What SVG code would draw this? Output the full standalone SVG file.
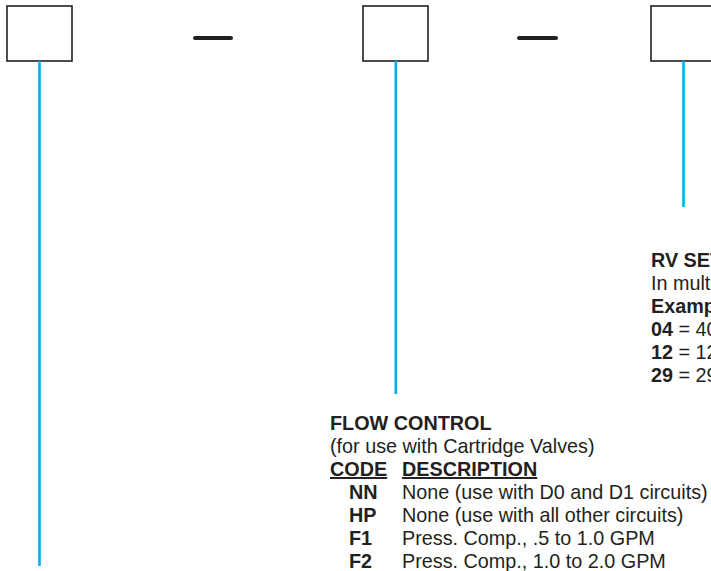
<svg xmlns="http://www.w3.org/2000/svg" width="711" height="571" viewBox="0 0 711 571">
<style>
.box{fill:#fff;stroke:#231f20;stroke-width:1.6}
.dash{stroke:#231f20;stroke-width:4;stroke-linecap:round}
.lead{stroke:#00aeef;stroke-width:2.6;fill:none}
text{font-family:"Liberation Sans",Arial,Helvetica,sans-serif;font-size:19.8px;fill:#231f20}
.b{font-weight:bold}
.u{text-decoration:underline}
</style>
<rect width="711" height="571" fill="#fff"/>
<g id="box1"><rect class="box" x="7" y="6" width="65" height="55"/></g>
<g id="sep1"><line class="dash" x1="195" y1="38" x2="231" y2="38"/></g>
<g id="box2"><rect class="box" x="363" y="6" width="65" height="55"/></g>
<g id="sep2"><line class="dash" x1="519" y1="38" x2="556" y2="38"/></g>
<g id="box3"><rect class="box" x="651" y="6" width="65" height="55"/></g>
<g id="connectors">
<line class="lead" x1="39.5" y1="61" x2="39.5" y2="566"/>
<line class="lead" x1="395.8" y1="61" x2="395.8" y2="394"/>
<line class="lead" x1="683.5" y1="61" x2="683.5" y2="207"/>
</g>
<g id="rv-setting">
<text class="b" x="651" y="267">RV SET</text>
<text x="651" y="290">In multi</text>
<text class="b" x="651" y="313">Examp</text>
<text x="651" y="336"><tspan class="b">04</tspan> = 40</text>
<text x="651" y="359"><tspan class="b">12</tspan> = 12</text>
<text x="651" y="382"><tspan class="b">29</tspan> = 29</text>
</g>
<g id="flow-control">
<text class="b" x="330" y="430">FLOW CONTROL</text>
<text x="330" y="453">(for use with Cartridge Valves)</text>
<text class="b u" x="330" y="476">CODE</text>
<text class="b u" x="402" y="476">DESCRIPTION</text>
<text class="b" x="349" y="499">NN</text>
<text x="402" y="499">None (use with D0 and D1 circuits)</text>
<text class="b" x="349" y="522">HP</text>
<text x="402" y="522">None (use with all other circuits)</text>
<text class="b" x="349" y="545">F1</text>
<text x="402" y="545">Press. Comp., .5 to 1.0 GPM</text>
<text class="b" x="349" y="568">F2</text>
<text x="402" y="568">Press. Comp., 1.0 to 2.0 GPM</text>
</g>
</svg>
